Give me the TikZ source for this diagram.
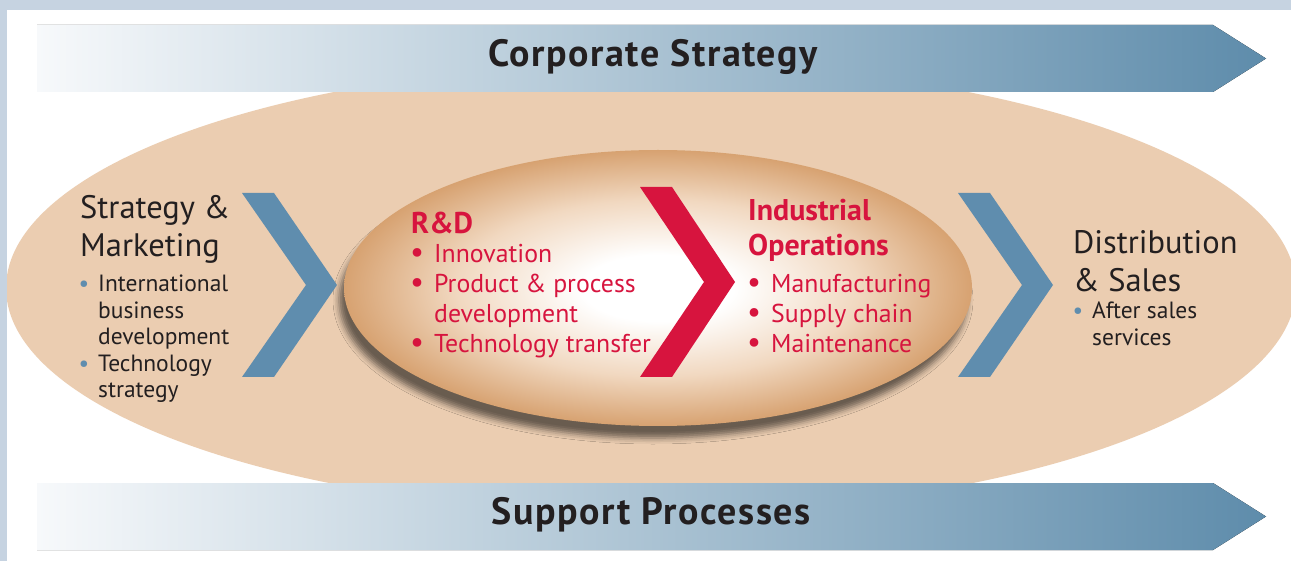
\documentclass[tikz,border=0pt]{standalone}
\usepackage{fontspec}
\setmainfont{PT Sans}
\usetikzlibrary{shadows.blur}

\definecolor{framegrey}{HTML}{C6D3E1}
\definecolor{outertan}{HTML}{EBCDB1}
\definecolor{inneredge}{HTML}{D7A271}
\definecolor{innermid}{HTML}{F1D8C0}
\definecolor{chevblue}{HTML}{5F8DAE}
\definecolor{chevred}{HTML}{D7143E}
\definecolor{bandlight}{HTML}{F7F9FB}
\definecolor{banddark}{HTML}{5E8CAB}
\definecolor{textdark}{HTML}{231F20}

\pgfdeclareradialshading{innerglow}{\pgfpoint{0bp}{0bp}}{color(0bp)=(white); color(6bp)=(white); color(16bp)=(innermid); color(25bp)=(inneredge); color(50bp)=(inneredge)}

\newcommand{\bluedot}{\llap{\textcolor{chevblue}{\textbullet}\hspace{9pt}}}
\newcommand{\reddot}{\llap{\textcolor{chevred}{\scalebox{1.2}{\textbullet}}\hspace{10pt}}}

\tikzset{
  band/.style={left color=bandlight, right color=banddark},
  bandtext/.style={inner sep=0pt, text=textdark,
    font=\fontsize{38}{44}\selectfont\bfseries\addfontfeature{LetterSpace=4}},
  head/.style={anchor=north west, inner sep=0pt, align=left, text=textdark,
    font=\fontsize{32.5}{38}\selectfont},
  sub/.style={anchor=north west, inner sep=0pt, align=left, text=textdark,
    font=\fontsize{23.5}{26.5}\selectfont},
  redhead/.style={anchor=north west, inner sep=0pt, align=left, text=chevred,
    font=\fontsize{30}{35}\selectfont\bfseries},
  redsub/.style={anchor=north west, inner sep=0pt, align=left, text=chevred,
    font=\fontsize{25.8}{30}\selectfont},
}

\begin{document}
\begin{tikzpicture}[x=1pt,y=-1pt]
\useasboundingbox (0,0) rectangle (1291,561);
\fill[white] (0,0) rectangle (1291,561);

% Outer value chain ellipse
\fill[outertan] (651,288) ellipse [x radius=645pt, y radius=225pt];

% Core ellipse with glow and shadow
\path[shading=innerglow, blur shadow={shadow xshift=-5pt, shadow yshift=-12pt, shadow blur radius=6pt, shadow opacity=55}]
  (658,288) ellipse [x radius=314pt, y radius=138pt];

% Chevrons
\foreach \cx/\cy/\h/\col in {242/285/92/chevblue, 958/285/92/chevblue, 640/282/95/chevred} {
  \fill[\col] (\cx,\cy-\h) -- (\cx+32,\cy-\h) -- (\cx+95,\cy) -- (\cx+32,\cy+\h)
    -- (\cx,\cy+\h) -- (\cx+64,\cy) -- cycle;
}

% Bands
\foreach \y in {25, 483} {
  \fill[band] (37,\y) -- (1213,\y) -- (1266,\y+33.5) -- (1213,\y+67) -- (37,\y+67) -- cycle;
}
\node[bandtext] (corp) at (653,57) {Corporate Strategy};
\node[bandtext] (support) at (651,515) {Support Processes};

% Frame
\fill[framegrey] (0,0) rectangle (1291,10);
\fill[framegrey] (0,0) rectangle (7,561);

% Outer texts
\node[head] (stratmkt) at (80,195) {Strategy \&\\Marketing};
\node[sub] (stratlist) at (98,275) {\bluedot International\\business\\development\\\bluedot Technology\\strategy};
\node[head] (distsales) at (1073,230) {Distribution\\\& Sales};
\node[sub] (distlist) at (1092,302) {\bluedot After sales\\services};

% Core texts
\node[redhead] (rnd) at (411,212) {R\&D};
\node[redsub] (rndlist) at (434,244) {\reddot Innovation\\\reddot Product \& process\\development\\\reddot Technology transfer};
\node[redhead] (indops) at (748,199) {Industrial\\Operations};
\node[redsub] (opslist) at (771,274) {\reddot Manufacturing\\\reddot Supply chain\\\reddot Maintenance};
\end{tikzpicture}
\end{document}
